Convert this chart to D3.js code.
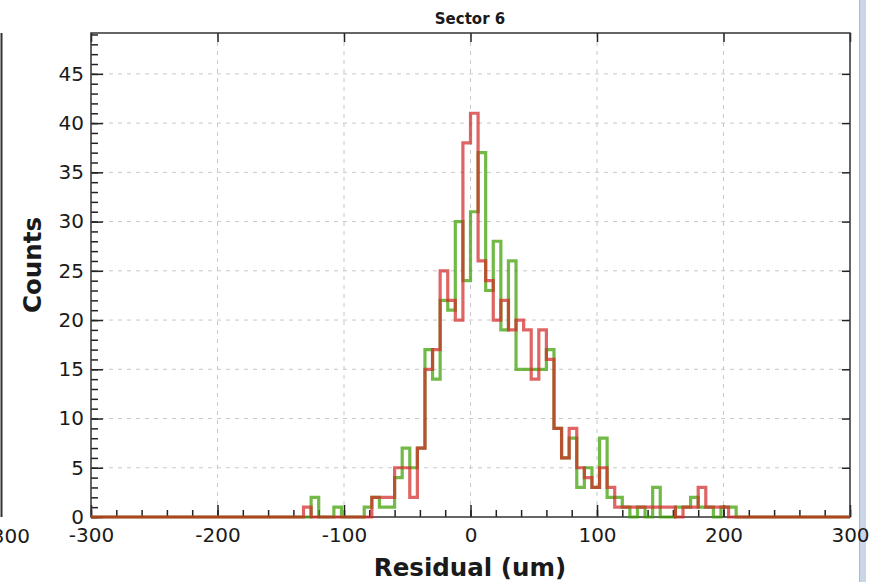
<!DOCTYPE html>
<html>
<head>
<meta charset="utf-8">
<script src="https://cdn.jsdelivr.net/npm/d3@7"></script>
<style>
  html, body { margin: 0; padding: 0; background: #fff; }
  svg { display: block; }
  text { font-family: "DejaVu Sans", sans-serif; fill: #1a1a1a; }
</style>
</head>
<body>
<svg id="chart" width="877" height="582"></svg>
<script>
// Residual histogram for sector 6: two overlaid step histograms, 6 um bins from -300 to 300.
const binLow = -300;
const binWidth = 6;
const nBins = 100;

// Counts per bin (bin k covers [-300 + 6k, -294 + 6k))
const countsRed = [
  0,0,0,0,0,0,0,0,0,0, 0,0,0,0,0,0,0,0,0,0,
  0,0,0,0,0,0,0,0,1,0, 0,0,0,0,0,0,0,2,2,2,
  5,5,2,7,15,17,25,22,20,38, 41,26,24,20,22,19,20,19,14,19,
  16,9,6,9,5,4,3,5,3,1, 1,1,1,1,1,1,1,0,1,1,
  3,1,1,1,0,0,0,0,0,0, 0,0,0,0,0,0,0,0,0,0
];
const countsGreen = [
  0,0,0,0,0,0,0,0,0,0, 0,0,0,0,0,0,0,0,0,0,
  0,0,0,0,0,0,0,0,0,2, 0,0,1,0,0,0,1,2,1,1,
  4,7,5,7,17,14,22,21,30,24, 31,37,23,28,19,26,15,15,15,15,
  17,9,6,8,3,5,3,8,2,2, 1,0,1,0,3,0,0,1,1,2,
  1,1,0,1,1,0,0,0,0,0, 0,0,0,0,0,0,0,0,0,0
];

const xMajor = [-300, -200, -100, 0, 100, 200, 300];
const yMajor = [0, 5, 10, 15, 20, 25, 30, 35, 40, 45];
const xMinor = d3.range(-300, 301, 20);
const yMinor = d3.range(0, 50, 1);

const titleText = "Sector 6";
const xTitle = "Residual (um)";
const yTitle = "Counts";

const svg = d3.select("#chart");
const W = 877, H = 582;
const plot = { left: 91, right: 850, top: 33, bottom: 517 };
const labelSize = 20;

const x = d3.scaleLinear().domain([-300, 300]).range([plot.left, plot.right]);
const y = d3.scaleLinear().domain([0, 49.15]).range([plot.bottom, plot.top]);
const plainNum = d => String(d);

svg.append("rect").attr("width", W).attr("height", H).attr("fill", "#fff");

// neighbouring panel edge on the left
svg.append("line")
  .attr("x1", 1.5).attr("x2", 1.5).attr("y1", plot.top).attr("y2", plot.bottom)
  .attr("stroke", "#333").attr("stroke-width", 2);
svg.append("text")
  .attr("x", 30).attr("y", 543).attr("text-anchor", "end")
  .attr("font-size", labelSize).text("300");

// window border strip on the right
svg.append("rect").attr("x", 859).attr("y", 0).attr("width", 7).attr("height", H)
  .attr("fill", "#c9d6e8");
svg.append("line").attr("x1", 859.5).attr("x2", 859.5).attr("y1", 0).attr("y2", H)
  .attr("stroke", "#a9bbd2").attr("stroke-width", 1);

// gridlines
const grid = svg.append("g").attr("stroke", "#c8c8c8").attr("stroke-width", 1)
  .attr("stroke-dasharray", "4,5");
grid.selectAll(".gx").data(xMajor.slice(1, -1)).join("line")
  .attr("x1", d => x(d)).attr("x2", d => x(d))
  .attr("y1", plot.top).attr("y2", plot.bottom);
grid.selectAll(".gy").data(yMajor.slice(1)).join("line")
  .attr("x1", plot.left).attr("x2", plot.right)
  .attr("y1", d => y(d)).attr("y2", d => y(d));

// axes with inward ticks
function styleAxis(g) {
  g.select(".domain").remove();
  g.selectAll(".tick line").attr("stroke", "#222").attr("stroke-width", 1.5);
  g.selectAll(".tick text").attr("font-size", labelSize).attr("fill", "#1a1a1a")
    .attr("font-family", "DejaVu Sans, sans-serif");
}

svg.append("g").attr("transform", `translate(0,${plot.bottom})`)
  .call(d3.axisBottom(x).tickValues(xMinor).tickSize(-7).tickFormat(""))
  .call(styleAxis);
svg.append("g").attr("transform", `translate(0,${plot.bottom})`)
  .call(d3.axisBottom(x).tickValues(xMajor).tickSize(-12).tickPadding(11)
    .tickFormat(plainNum))
  .call(styleAxis);
svg.append("g").attr("transform", `translate(0,${plot.top})`)
  .call(d3.axisTop(x).tickValues(xMajor).tickSize(-9).tickFormat(""))
  .call(styleAxis);

svg.append("g").attr("transform", `translate(${plot.left},0)`)
  .call(d3.axisLeft(y).tickValues(yMinor).tickSize(-7).tickFormat(""))
  .call(styleAxis);
svg.append("g").attr("transform", `translate(${plot.left},0)`)
  .call(d3.axisLeft(y).tickValues(yMajor).tickSize(-12).tickPadding(7)
    .tickFormat(plainNum))
  .call(styleAxis);
svg.append("g").attr("transform", `translate(${plot.right},0)`)
  .call(d3.axisRight(y).tickValues(yMajor.slice(1)).tickSize(-8).tickFormat(""))
  .call(styleAxis);

// frame
svg.append("rect")
  .attr("x", plot.left).attr("y", plot.top)
  .attr("width", plot.right - plot.left).attr("height", plot.bottom - plot.top)
  .attr("fill", "none").attr("stroke", "#333").attr("stroke-width", 1.5);

// step histograms
function stepPoints(counts) {
  const pts = counts.map((c, i) => [binLow + i * binWidth, c]);
  pts.push([binLow + nBins * binWidth, counts[counts.length - 1]]);
  return pts;
}
const stepLine = d3.line()
  .x(d => x(d[0])).y(d => y(d[1]))
  .curve(d3.curveStepAfter);

svg.append("path").datum(stepPoints(countsGreen))
  .attr("d", stepLine).attr("fill", "none")
  .attr("stroke", "rgb(60,160,0)").attr("stroke-opacity", 0.72)
  .attr("stroke-width", 3.2).attr("stroke-linejoin", "miter");
svg.append("path").datum(stepPoints(countsRed))
  .attr("d", stepLine).attr("fill", "none")
  .attr("stroke", "rgb(210,40,40)").attr("stroke-opacity", 0.72)
  .attr("stroke-width", 3.2).attr("stroke-linejoin", "miter");

// titles
svg.append("text").attr("x", 470).attr("y", 24).attr("text-anchor", "middle")
  .attr("font-size", 15).attr("font-weight", "bold").text(titleText);
svg.append("text").attr("x", 470).attr("y", 576).attr("text-anchor", "middle")
  .attr("font-size", 24.5).attr("font-weight", "bold").text(xTitle);
svg.append("text")
  .attr("transform", "translate(41,265) rotate(-90)")
  .attr("text-anchor", "middle")
  .attr("font-size", 24.5).attr("font-weight", "bold").text(yTitle);
</script>
</body>
</html>
